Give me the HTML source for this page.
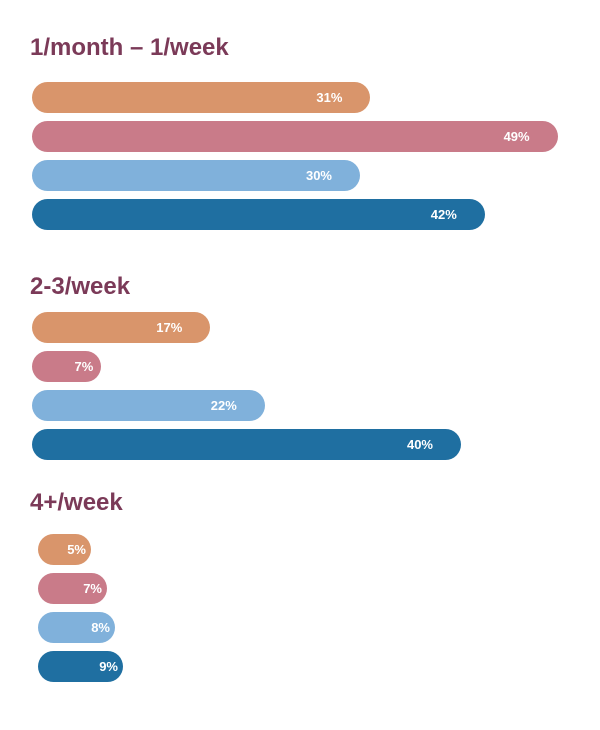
<!DOCTYPE html>
<html><head><meta charset="utf-8"><style>
body{margin:0;background:#fff;width:600px;height:730px;overflow:hidden;font-family:"Liberation Sans",sans-serif}
.t{position:absolute;left:30px;font-size:24px;font-weight:600;color:#7b3a58}
.bar{position:absolute;height:31px;border-radius:16px}
.lab{position:absolute;right:28px;top:0;line-height:31px;color:#fff;font-size:13px;font-weight:bold}
</style></head><body>
<div id="root"></div>
<script>
const groups=["1/month – 1/week","2-3/week","4+/week"];
const seriesA=[31,17,5];
const seriesB=[49,7,7];
const seriesC=[30,22,8];
const seriesD=[42,40,9];
const colors=["#d9956b","#c97b89","#80b1db","#1f6fa1"];
const titleY=[34,273,489],rowY=[[82,121,160,199],[312,351,390,429],[534,573,612,651]],x0=[32,32,38];
const scA=[16,-7,13],scB=[10.4,10.9,8];
const root=document.getElementById('root');
const series=[seriesA,seriesB,seriesC,seriesD];
groups.forEach((g,gi)=>{
 const t=document.createElement('div');t.className='t';t.style.top=titleY[gi]+'px';t.textContent=g;
 
 
 root.appendChild(t);
 series.forEach((s,si)=>{
  const b=document.createElement('div');b.className='bar';
  b.style.left=x0[gi]+'px';b.style.top=rowY[gi][si]+'px';
  b.style.width=Math.max(scA[gi]+scB[gi]*s[gi],50)+'px';b.style.background=colors[si];
  
  
  const l=document.createElement('span');l.className='lab';l.textContent=s[gi]+'%';
  
  
  if(s[gi]<10)l.style.right=(gi==2?'5px':'8px');
  b.appendChild(l);root.appendChild(b);
 });
});
</script></body></html>
